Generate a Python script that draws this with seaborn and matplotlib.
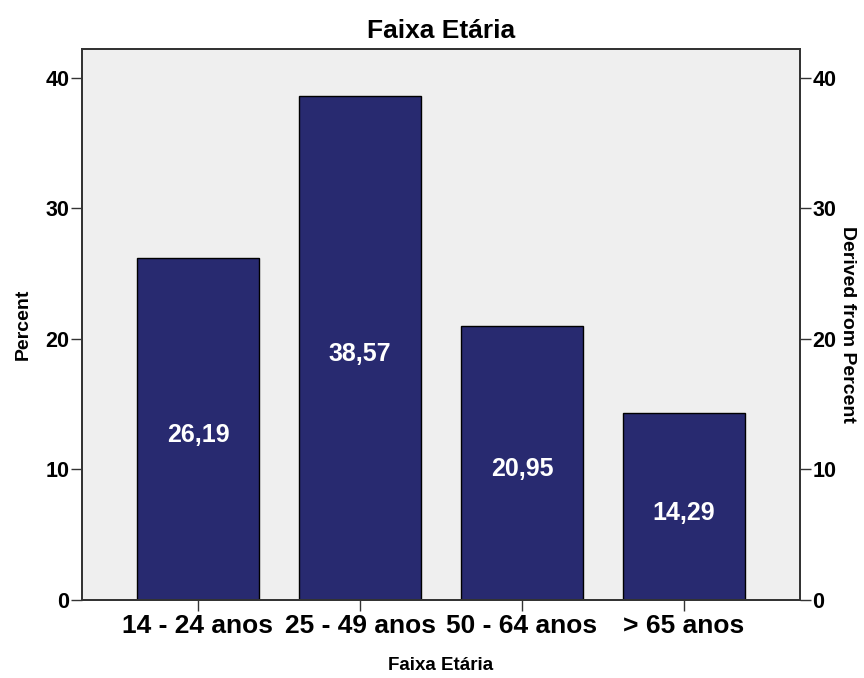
import numpy as np
import pandas as pd
import matplotlib
matplotlib.use("Agg")
import matplotlib.pyplot as plt
import seaborn as sns

# data
faixas = ["14 - 24 anos", "25 - 49 anos", "50 - 64 anos", "> 65 anos"]
percent = [26.19, 38.57, 20.95, 14.29]

df = pd.DataFrame({"faixa": faixas, "percent": percent})

sns.set_style("white")
plt.rcParams["font.family"] = ["Liberation Sans", "DejaVu Sans"]
plt.rcParams["font.weight"] = "bold"
plt.rcParams["text.color"] = "black"
plt.rcParams["axes.labelcolor"] = "black"
plt.rcParams["xtick.color"] = "black"
plt.rcParams["ytick.color"] = "black"

fig = plt.figure(figsize=(8.64, 6.78), dpi=100)
ax = fig.add_axes([0.0949, 0.115, 0.8311, 0.8128])
ax.set_facecolor("#efefef")

sns.barplot(data=df, x="faixa", y="percent", color="#282a70", saturation=1,
            width=0.75, edgecolor="black", linewidth=1, ax=ax)

# value labels inside the bars (comma as decimal sep), a bit below the middle
for i, v in enumerate(percent):
    ax.text(i, v / 2 - 0.45, f"{v:.2f}".replace(".", ","), ha="center", va="center",
            color="white", fontsize=18, fontweight="bold")

ax.set_xlim(-0.716, 3.716)
ax.set_ylim(0, 42.2)
ax.set_yticks([0, 10, 20, 30, 40])
ax.set_title("Faixa Etária", fontsize=19, fontweight="bold", pad=8, color="black")
ax.set_xlabel("Faixa Etária", fontsize=13.5, fontweight="bold", labelpad=14)
ax.set_ylabel("Percent", fontsize=14, fontweight="bold", labelpad=10)
ax.tick_params(axis="x", labelsize=19, length=8, width=1, direction="out", bottom=True, pad=2,
               color="#333333", labelcolor="black")
ax.tick_params(axis="y", labelsize=15.5, length=8, width=1, direction="out", left=True, pad=1,
               color="#333333", labelcolor="black")
for s in ax.spines.values():
    s.set_color("#333333")
    s.set_linewidth(1.3)

# right axis, same scale
ax2 = ax.twinx()
ax2.set_ylim(ax.get_ylim())
ax2.set_yticks([0, 10, 20, 30, 40])
ax2.tick_params(axis="y", labelsize=15.5, length=8, width=1, direction="out", right=True, pad=1,
                color="#333333", labelcolor="black")
ax2.set_ylabel("Derived from Percent", fontsize=14, fontweight="bold", rotation=270, labelpad=14)
for s in ax2.spines.values():
    s.set_color("#333333")
    s.set_linewidth(1.3)

fig.savefig("out.png", dpi=100, facecolor="white")
